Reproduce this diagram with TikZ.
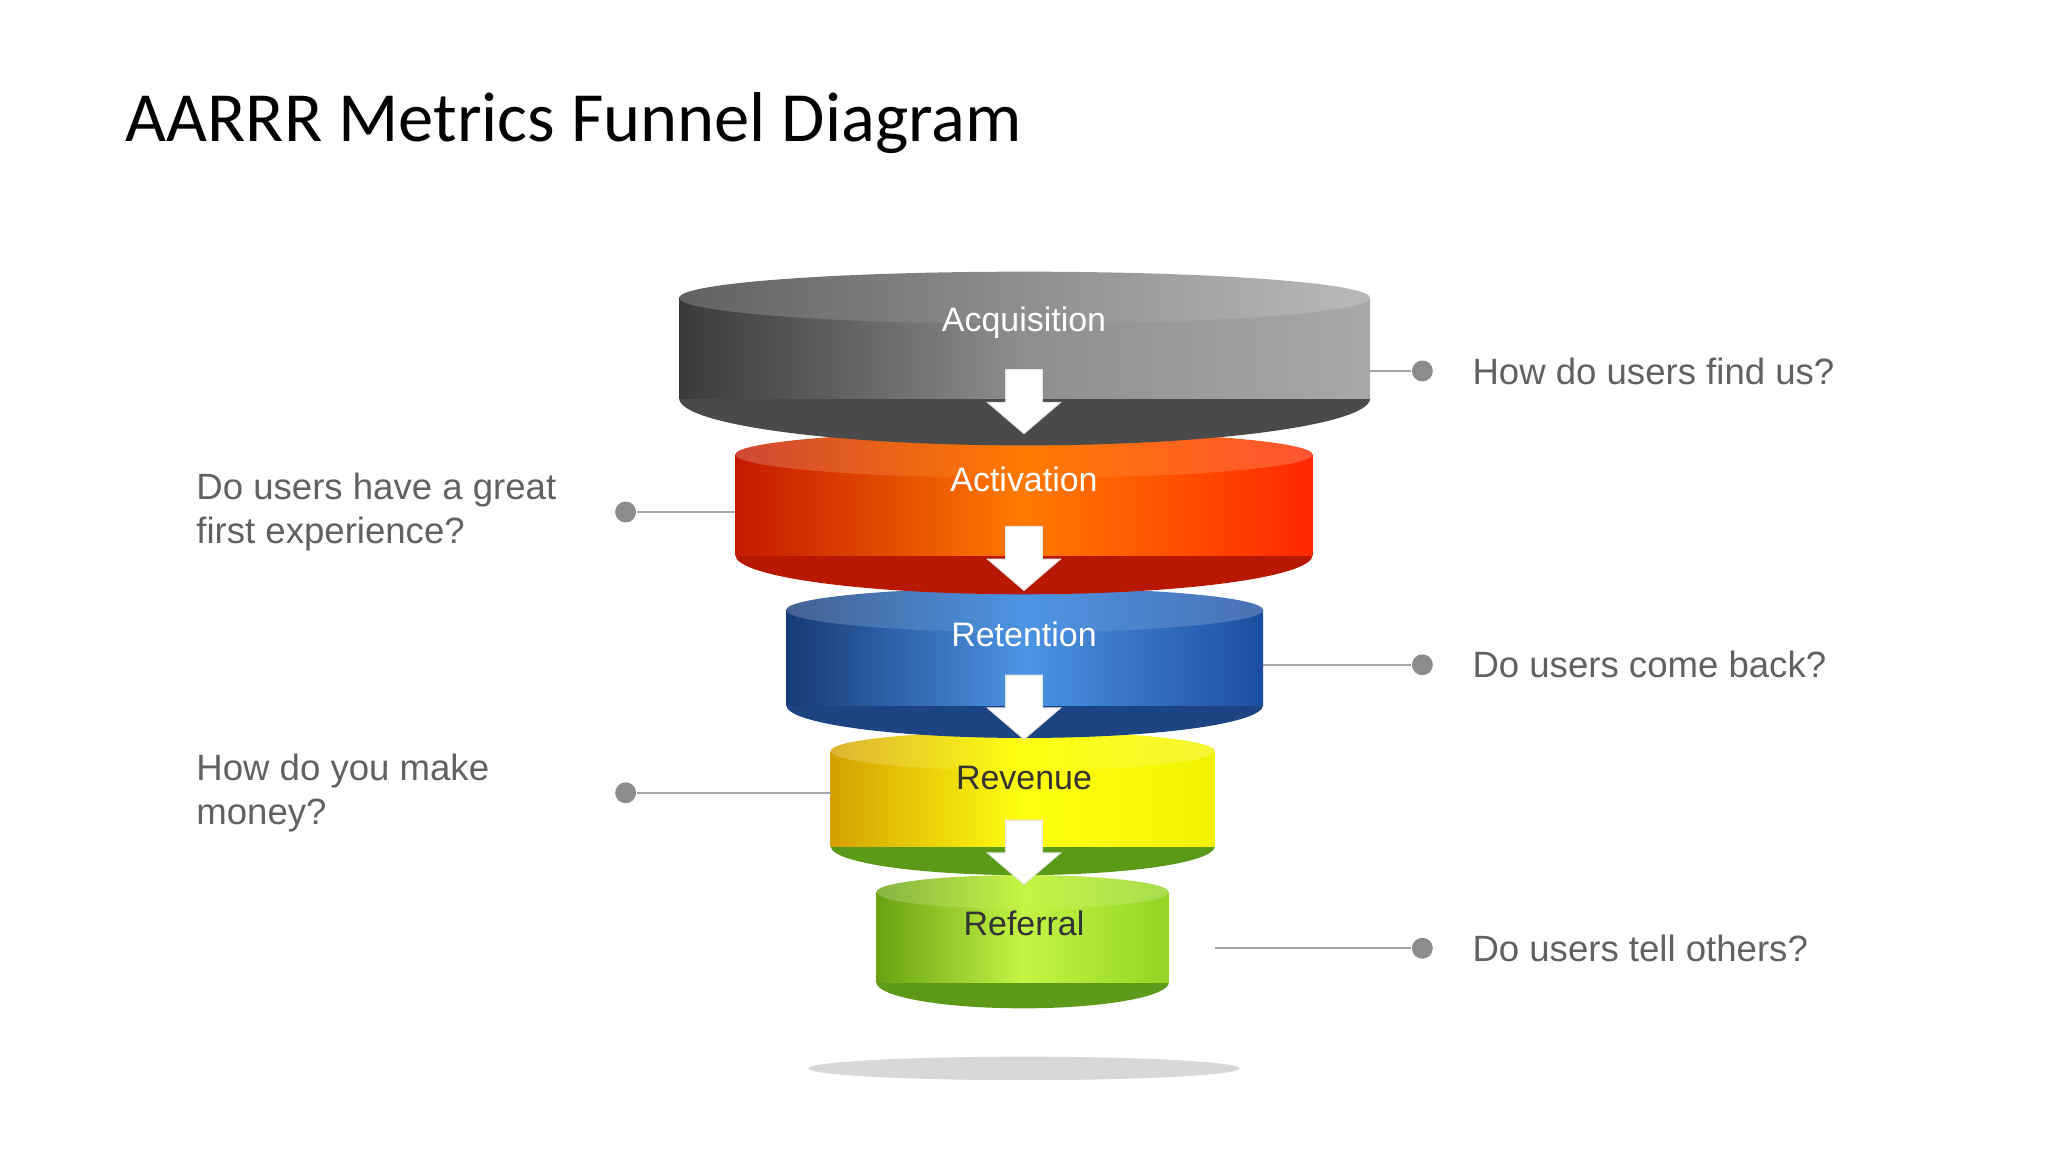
\documentclass[tikz,border=0pt]{standalone}
\usepackage{fontspec}
\setmainfont{Liberation Sans}
\newfontfamily\titlefont{Carlito}
\begin{document}
\begin{tikzpicture}[x=0.5pt,y=-0.5pt,
  lbl/.style={font=\fontsize{13}{15}\selectfont},
  q/.style={font=\fontsize{14}{17}\selectfont,text=black!62,align=left,anchor=west,inner sep=0},
  dot/.style={circle,fill=black!45,minimum size=8pt,inner sep=0},
  lead/.style={draw=black!35,line width=0.6pt},
  arr/.style={fill=white,draw=black!10,line width=0.4pt}]
\useasboundingbox (0,0) rectangle (1568,882);
\fill[white] (0,0) rectangle (1568,882);
\node[anchor=base west,inner sep=0,font=\titlefont\fontsize{27}{30}\selectfont] (title) at (96,108) {AARRR Metrics Funnel Diagram};
% shadow
\fill[black!25,opacity=0.6] (784,818) ellipse [x radius=165,y radius=9];
% layer macro: #1 xl #2 xr #3 yt #4 ryt #5 yb #6 ryb #7 colour prefix
\newcommand\mylayer[7]{%
  \pgfmathsetmacro\cx{(#1+#2)/2}\pgfmathsetmacro\rx{(#2-#1)/2}
  \fill[#7B] (\cx,#5) ellipse [x radius=\rx,y radius=#6];
  \shade[left color=#7L,right color=#7R,middle color=#7M] (#1,#3) rectangle (#2,#5);
  \shade[left color=#7L!80!white,right color=#7R!80!white,middle color=#7M] (\cx,#3) ellipse [x radius=\rx,y radius=#4];
}
\definecolor{gL}{HTML}{3A3A3A}\definecolor{gM}{HTML}{8E8E8E}\definecolor{gR}{HTML}{A8A8A8}\definecolor{gB}{HTML}{4A4A4A}
\definecolor{oL}{HTML}{C41A00}\definecolor{oM}{HTML}{FF7A00}\definecolor{oR}{HTML}{FF2800}\definecolor{oB}{HTML}{B81800}
\definecolor{bL}{HTML}{173A78}\definecolor{bM}{HTML}{4C94E4}\definecolor{bR}{HTML}{1E4EA0}\definecolor{bB}{HTML}{1C4482}
\definecolor{yL}{HTML}{D4A000}\definecolor{yM}{HTML}{FFFF10}\definecolor{yR}{HTML}{F2F200}\definecolor{yB}{HTML}{5A9A18}
\definecolor{nL}{HTML}{6AA012}\definecolor{nM}{HTML}{C4F444}\definecolor{nR}{HTML}{94D424}\definecolor{nB}{HTML}{5E9A1A}
\mylayer{671}{895}{683}{13}{752}{20}{n}
\mylayer{636}{930}{575}{15}{648}{22}{y}
\mylayer{602}{967}{467}{17}{540}{25}{b}
\mylayer{563}{1005}{348}{18}{425}{30}{o}
\mylayer{520}{1049}{228}{20}{305}{36}{g}
% labels
\node[lbl,text=white] (acq) at (784,247) {Acquisition};
\node[lbl,text=white] (act) at (784,367) {Activation};
\node[lbl,text=white] (ret) at (784,486) {Retention};
\node[lbl,text=black!80] (rev) at (784,596) {Revenue};
\node[lbl,text=black!80] (ref) at (784,707) {Referral};
% arrows
\foreach \y in {283,403,517,628}{
  \path[arr] (770,\y) -- (798,\y) -- (798,\y+25) -- (812,\y+25) -- (784,\y+49) -- (756,\y+25) -- (770,\y+25) -- cycle;
}
% callouts
\coordinate (e1) at (1049,284); \node[dot] (d1) at (1089,284) {};
\coordinate (e2) at (563,392);  \node[dot] (d2) at (479,392) {};
\coordinate (e3) at (967,509);  \node[dot] (d3) at (1089,509) {};
\coordinate (e4) at (636,607);  \node[dot] (d4) at (479,607) {};
\coordinate (e5) at (930,726);  \node[dot] (d5) at (1089,726) {};
\draw[lead] (e1) -- (d1); \draw[lead] (e2) -- (d2); \draw[lead] (e3) -- (d3);
\draw[lead] (e4) -- (d4); \draw[lead] (e5) -- (d5);
\node[q] (t1) at (1127,284) {How do users find us?};
\node[q] (t2) at (150,392) {Do users have a great\\first experience?};
\node[q] (t3) at (1127,509) {Do users come back?};
\node[q] (t4) at (150,607) {How do you make\\money?};
\node[q] (t5) at (1127,726) {Do users tell others?};
\end{tikzpicture}
\end{document}
